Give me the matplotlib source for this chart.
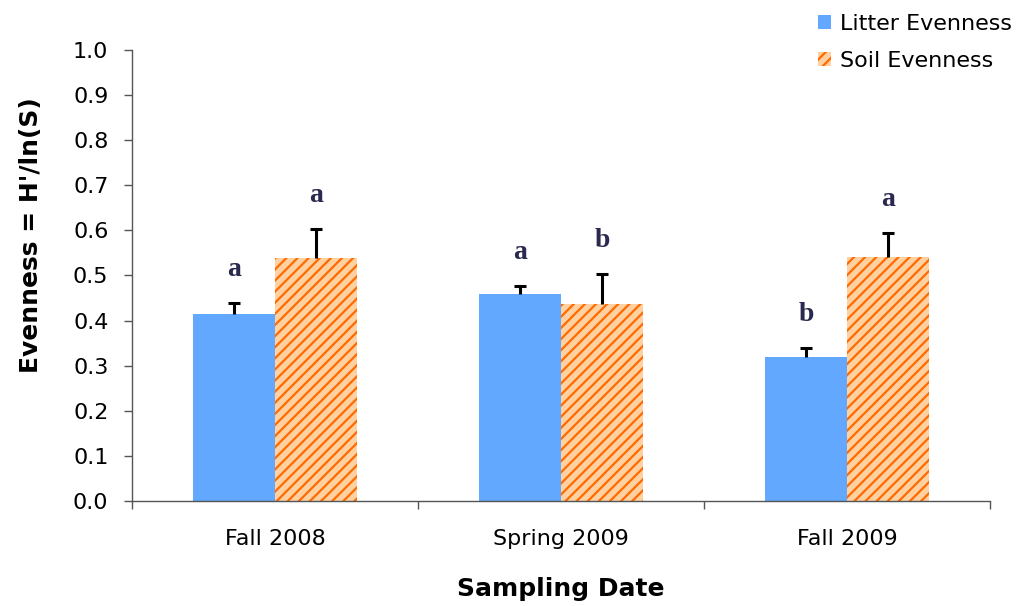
import numpy as np
import matplotlib
matplotlib.use("Agg")
import matplotlib.pyplot as plt

# data
dates = ["Fall 2008", "Spring 2009", "Fall 2009"]
litter = [0.415, 0.459, 0.319]
litter_err = [0.023, 0.018, 0.020]
soil = [0.539, 0.437, 0.541]
soil_err = [0.064, 0.066, 0.053]
litter_letters = ["a", "a", "b"]
soil_letters = ["a", "b", "a"]

plt.rcParams['font.family'] = ['DejaVu Sans']
plt.rcParams['hatch.linewidth'] = 1.6
plt.rcParams['hatch.color'] = '#FF6A00'

fig = plt.figure(figsize=(10.2, 6.06), dpi=100)
ax = fig.add_axes([0.1294, 0.1733, 0.8412, 0.7442])

x = np.arange(len(dates))
w = 0.287

ax.bar(x - w / 2, litter, w, color='#62A8FF', edgecolor='none',
       label='Litter Evenness', zorder=2)
ax.bar(x + w / 2, soil, w, color='#FFD0A0', edgecolor='#FF6A00', linewidth=0,
       hatch='///', label='Soil Evenness', zorder=2)

# only upper error bars, hide the lower caps
for xs, ys, es in [(x - w / 2, litter, litter_err), (x + w / 2, soil, soil_err)]:
    eb = ax.errorbar(xs, ys, yerr=[np.zeros(3), es], fmt='none',
                     ecolor='black', elinewidth=2.2, capsize=4.5,
                     capthick=2.2, zorder=3)
    eb[1][0].set_visible(False)

# significance letters
for i in range(len(dates)):
    ax.text(x[i] - w / 2, litter[i] + litter_err[i] + 0.075, litter_letters[i],
            ha='center', va='center', fontsize=20, fontweight='bold',
            family='Liberation Serif', color='#2a2a50')
    ax.text(x[i] + w / 2, soil[i] + soil_err[i] + 0.075, soil_letters[i],
            ha='center', va='center', fontsize=20, fontweight='bold',
            family='Liberation Serif', color='#2a2a50')

ax.set_xlim(-0.5, 2.5)
ax.set_ylim(0, 1.0)
ax.set_yticks(np.arange(0, 1.01, 0.1))
ax.set_yticklabels(["%.1f" % v for v in np.arange(0, 1.01, 0.1)])
ax.set_xticks(x)
ax.set_xticklabels(dates)
ax.set_xticks([-0.5, 0.5, 1.5, 2.5], minor=True)
ax.tick_params(axis='x', which='major', length=0, pad=20, labelsize=16)
ax.tick_params(axis='x', which='minor', length=6, width=1, color='#555555',
               direction='out')
ax.tick_params(axis='y', length=6, width=1, color='#555555', labelsize=16,
               direction='out', pad=11)

for s in ['top', 'right']:
    ax.spines[s].set_visible(False)
for s in ['left', 'bottom']:
    ax.spines[s].set_color('#555555')
    ax.spines[s].set_linewidth(1.0)

ax.set_ylabel("Evenness = H'/ln(S)", fontsize=18, fontweight='bold')
ax.yaxis.set_label_coords(-0.104, 0.59)
ax.set_xlabel("Sampling Date", fontsize=18, fontweight='bold', labelpad=20)

leg = fig.legend(loc='upper right', bbox_to_anchor=(1.012, 1.01), frameon=False,
                 fontsize=16, handlelength=0.6, handleheight=0.6,
                 handletextpad=0.4, labelspacing=0.75)

fig.savefig("out.png", dpi=100)
